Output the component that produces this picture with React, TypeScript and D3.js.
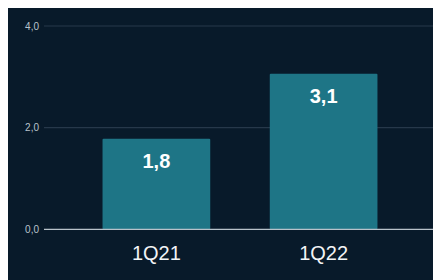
import React from "react";
import * as d3 from "d3";

const categories = ["1Q21", "1Q22"];
const values = [1.78, 3.06];
const valueLabels = ["1,8", "3,1"];
const yTicks = [0, 2, 4];
const yTickLabels = ["0,0", "2,0", "4,0"];

const W = 433;
const H = 272;

export default function App() {
  const x = d3.scaleBand<string>().domain(categories).range([35, 429]).paddingInner(0.356).paddingOuter(0.356);
  const y = d3.scaleLinear().domain([0, 4]).range([221.3, 18]);
  const font = "'Liberation Sans', Arial, sans-serif";
  return (
    <svg width={W} height={H} style={{ display: "block" }}>
      <rect x={0} y={0} width={W} height={H} fill="#081a2a" />
      {yTicks.map((t, i) => (
        <g key={t}>
          {t !== 0 && (
            <line x1={36} x2={426} y1={y(t)} y2={y(t)} stroke="#26384a" strokeWidth={1.2} />
          )}
          <text x={31} y={y(t)} dy="0.35em" textAnchor="end" fontSize={10} fill="#b9c3cc" fontFamily={font}>
            {yTickLabels[i]}
          </text>
        </g>
      ))}
      {categories.map((c, i) => {
        const bx = x(c)!;
        const bw = x.bandwidth();
        const top = y(values[i]);
        return (
          <g key={c}>
            <rect x={bx} y={top} width={bw} height={y(0) - top} fill="#1e7586" rx={1} />
            <text x={bx + bw / 2} y={top + 29} textAnchor="middle" fontSize={20} fontWeight="bold" fill="#ffffff" fontFamily={font}>
              {valueLabels[i]}
            </text>
            <text x={bx + bw / 2} y={252} textAnchor="middle" fontSize={20} fill="#f2f4f6" fontFamily={font}>
              {c}
            </text>
          </g>
        );
      })}
      <line x1={36} x2={426} y1={y(0)} y2={y(0)} stroke="#b8c2ca" strokeWidth={1.2} />
    </svg>
  );
}
